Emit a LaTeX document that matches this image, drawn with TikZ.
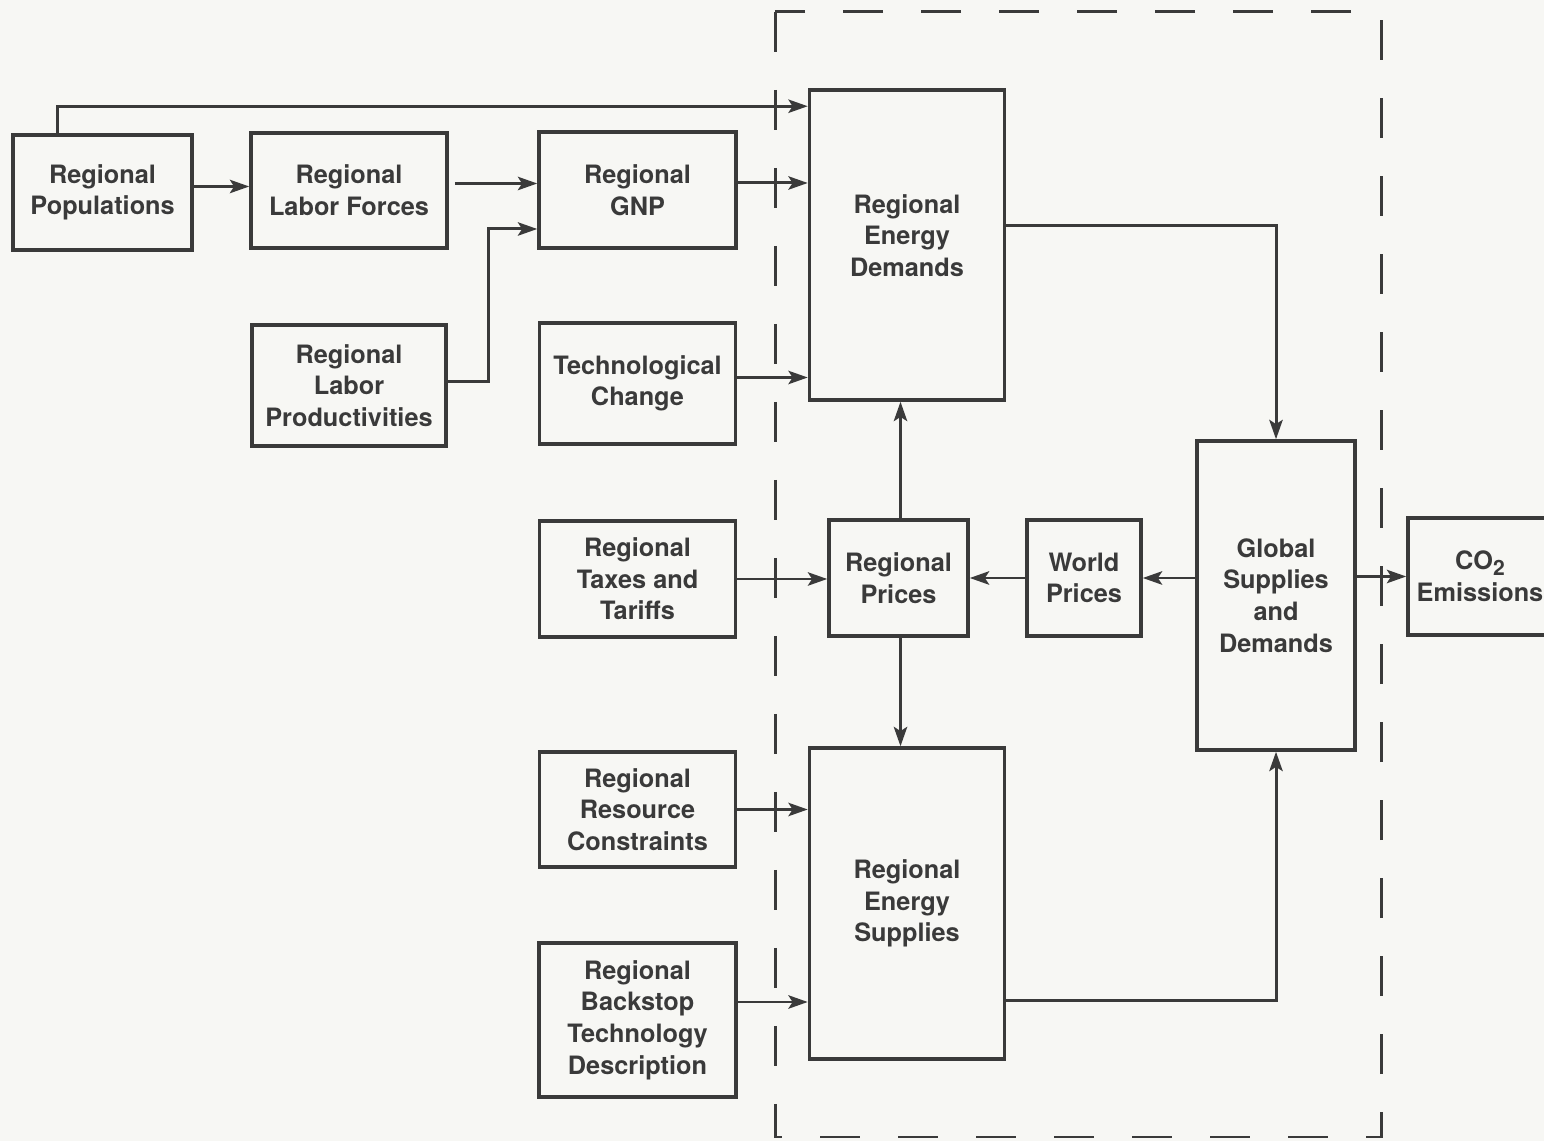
\documentclass[tikz,border=0pt]{standalone}
\usepackage{fontspec}
\setmainfont{TeX Gyre Heros}
\usetikzlibrary{calc, arrows.meta}
\definecolor{ink}{RGB}{58,58,58}
\definecolor{paper}{RGB}{247,247,244}
\tikzset{block/.style={draw=ink, line width=1pt, text=ink, align=center, inner sep=0pt, font=\fontsize{7.2}{9}\selectfont\bfseries}}
\tikzset{flow/.style={draw=ink, line width=0.85pt, -{Stealth[length=5.5pt, width=3.8pt, inset=1.2pt]}}}
\tikzset{boundary/.style={draw=ink, line width=0.85pt, dash pattern=on 0.4cm off 0.38cm}}

\begin{document}
\begin{tikzpicture}
    \newcommand\posL{3.49}
    \newcommand\posM{6.375}
    \newcommand\posE{9.07}

    \useasboundingbox (0, 0) rectangle (15.44, -11.41);
    \fill[paper] (0, 0) rectangle (15.44, -11.41);

    \draw[boundary] (7.75, -0.12) rectangle (13.81, -11.37);

    \node[block, minimum height=1.15cm, minimum width=1.79cm] (Pop) at (1.025, -1.925){Regional\\Populations};
    \node[block, minimum height=1.15cm, minimum width=1.96cm] (LF) at (\posL, -1.905){Regional\\Labor Forces};
    \node[block, minimum height=1.16cm, minimum width=1.97cm] (GNP) at (\posM, -1.90){Regional\\GNP};
    \node[block, minimum height=1.21cm, minimum width=1.94cm] (LP) at (\posL, -3.855){Regional\\Labor\\Productivities};
    \node[block, minimum height=1.21cm, minimum width=1.96cm] (TC) at (\posM, -3.835){Technological\\Change};
    \node[block, minimum height=3.10cm, minimum width=1.95cm, text depth=0.19cm] (ED) at (\posE, -2.45){Regional\\Energy\\Demands};

    \node[block, minimum height=1.16cm, minimum width=1.96cm] (TT) at (\posM, -5.79){Regional\\Taxes and\\Tariffs};
    \node[block, minimum height=1.16cm, minimum width=1.39cm] (RP) at (8.985, -5.78){Regional\\Prices};
    \node[block, minimum height=1.16cm, minimum width=1.14cm] (WP) at (10.84, -5.78){World\\Prices};
    \node[block, minimum height=3.09cm, minimum width=1.58cm] (GSD) at (12.76, -5.955){Global\\Supplies\\and\\Demands};
    \node[block, minimum height=1.17cm, minimum width=1.44cm] (CO) at (14.80, -5.765){CO\raisebox{-0.4ex}{\fontsize{6}{6}\selectfont 2}\\Emissions};

    \node[block, minimum height=1.15cm, minimum width=1.96cm] (RC) at (\posM, -8.095){Regional\\Resource\\Constraints};
    \node[block, minimum height=3.11cm, minimum width=1.95cm] (ES) at (\posE, -9.035){Regional\\Energy\\Supplies};
    \node[block, minimum height=1.54cm, minimum width=1.97cm] (BT) at (\posM, -10.20){Regional\\Backstop\\Technology\\Description};

    \draw[flow] ([xshift=0.46cm]Pop.north west) |- ([yshift=-0.18cm]ED.north west);
    \draw[flow] ([yshift=0.06cm]Pop.east) -- ([yshift=0.06cm]Pop.east -| LF.west);
    \draw[flow] ([xshift=0.06cm, yshift=0.07cm]LF.east) -- ([yshift=0.07cm]LF.east -| GNP.west);
    \draw[flow] ([yshift=0.04cm]LP.east) -- ++(0.41, 0) |- ([yshift=-0.39cm]GNP.west);
    \draw[flow] ([yshift=0.07cm]GNP.east) -- ([yshift=0.07cm]GNP.east -| ED.west);
    \draw[flow] ([yshift=0.06cm]TC.east) -- ([yshift=0.06cm]TC.east -| ED.west);

    \draw[flow] (TT.east) -- (TT.east -| RP.west);
    \draw[flow] (WP.west) -- (RP.east);
    \draw[flow] (GSD.west |- WP.west) -- (WP.east);
    \draw[flow] (GSD.east |- CO.west) -- (CO.west);
    \draw[flow] ([xshift=0.02cm]RP.north) -- ([xshift=0.02cm]RP.north |- ED.south);
    \draw[flow] ([xshift=0.02cm]RP.south) -- ([xshift=0.02cm]RP.south |- ES.north);

    \draw[flow] ([yshift=0.19cm]ED.east) -| (GSD.north);
    \draw[flow] ([yshift=-0.97cm]ES.east) -| (GSD.south);
    \draw[flow] (RC.east) -- (RC.east -| ES.west);
    \draw[flow] ([yshift=0.18cm]BT.east) -- ([yshift=0.18cm]BT.east -| ES.west);
\end{tikzpicture}
\end{document}
